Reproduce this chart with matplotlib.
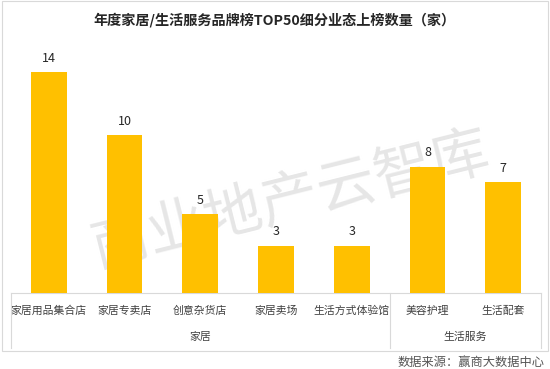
import matplotlib
matplotlib.use("Agg")
import matplotlib.pyplot as plt
from matplotlib.patches import Rectangle
from matplotlib.lines import Line2D

plt.rcParams['font.family'] = ['Noto Sans CJK SC', 'DejaVu Sans']

title = "年度家居/生活服务品牌榜TOP50细分业态上榜数量（家）"
categories = ["家居用品集合店", "家居专卖店", "创意杂货店", "家居卖场", "生活方式体验馆", "美容护理", "生活配套"]
values = [14, 10, 5, 3, 3, 8, 7]
groups = ["家居", "生活服务"]
group_sizes = [5, 2]
source = "数据来源：赢商大数据中心"
watermark = "商业地产云智库"

W, H = 550, 369
fig = plt.figure(figsize=(W / 100, H / 100), dpi=100)

# background axes for watermark
bg = fig.add_axes([0, 0, 1, 1], zorder=0)
bg.axis('off')
bg.text(290 / W, 1 - 200 / H, watermark, fontsize=42, color='#e6e6e6',
        rotation=14, ha='center', va='center', fontweight='medium',
        transform=bg.transAxes)

# axes placement (pixel-based)
x0, x1 = 11, 541
ybase = 293
ytop_px = 56
ax = fig.add_axes([x0 / W, (H - ybase) / H, (x1 - x0) / W, (ybase - ytop_px) / H], zorder=1)
ax.set_xlim(-0.5, len(categories) - 0.5)
ax.set_ylim(0, 15)
ax.patch.set_alpha(0)

xs = list(range(len(categories)))
ax.bar(xs, values, width=0.47, color='#FFC000', zorder=3)
for x, v in zip(xs, values):
    ax.text(x, v + 0.45, str(v), ha='center', va='bottom', fontsize=9, color='#262626')

for s in ['top', 'right', 'left']:
    ax.spines[s].set_visible(False)
ax.spines['bottom'].set_color('#d9d9d9')
ax.spines['bottom'].set_linewidth(0.8)
ax.set_yticks([])
ax.set_xticks([])

# category labels
for x, c in zip(xs, categories):
    ax.annotate(c, xy=(x, 0), xycoords='data', xytext=(0, -(311 - ybase)),
                textcoords='offset pixels', ha='center', va='center', fontsize=7.8, color='#404040')

# group labels and separators
start = 0
bounds = [-0.5]
for g, n in zip(groups, group_sizes):
    center = start + (n - 1) / 2
    ax.annotate(g, xy=(center, 0), xycoords='data', xytext=(0, -(337 - ybase)),
                textcoords='offset pixels', ha='center', va='center', fontsize=7.8, color='#404040')
    start += n
    bounds.append(start - 0.5)

for b in bounds:
    xp = ax.transData.transform((b, 0))[0]
    fig.add_artist(Line2D([xp / W, xp / W], [1 - ybase / H, 1 - 348 / H],
                          color='#d9d9d9', linewidth=0.8))

# chart border
fig.add_artist(Rectangle((1.5 / W, 1 - 351 / H), (548 - 1.5) / W, (351 - 0.5) / H,
                         fill=False, edgecolor='#d9d9d9', linewidth=0.8))

# title
fig.text(275 / W, 1 - 20 / H, title, ha='center', va='center', fontsize=10.2,
         fontweight='bold', color='#262626')

# source
fig.text(545 / W, 1 - 362 / H, source, ha='right', va='center', fontsize=8.8, color='#555555')

fig.savefig('out.png', dpi=100)
